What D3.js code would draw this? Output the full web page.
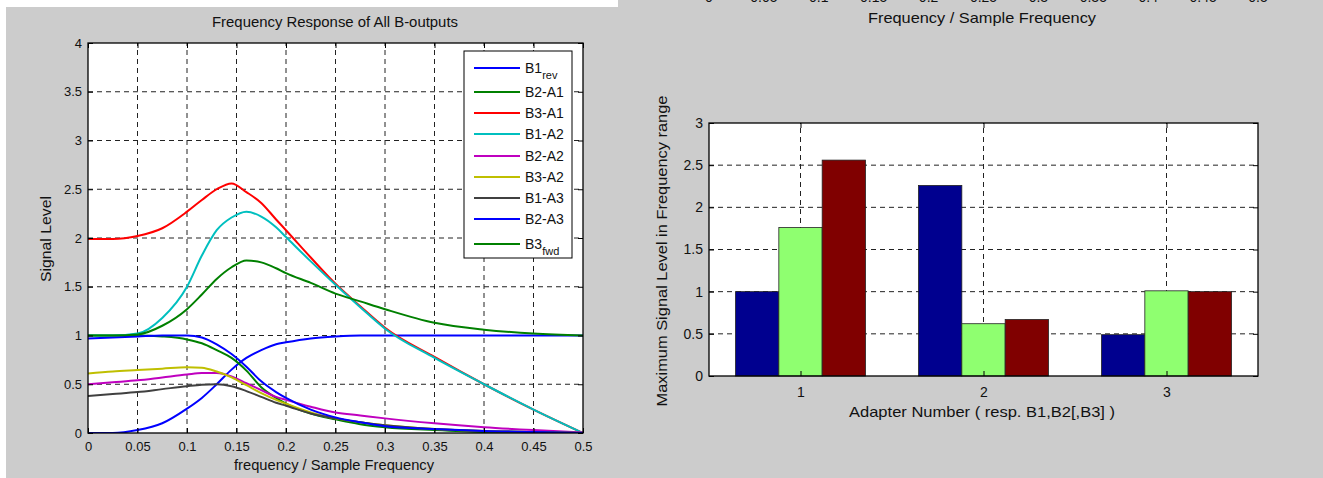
<!DOCTYPE html>
<html>
<head>
<meta charset="utf-8">
<script src="https://cdn.jsdelivr.net/npm/d3@7"></script>
<style>
  body { margin: 0; background: #cccccc; }
  svg { display: block; font-family: "Liberation Sans", Arial, sans-serif; }
</style>
</head>
<body>
<div id="chart"></div>
<script>
// ---- data: left panel (frequency response) ----
const freq   = [0, 0.025, 0.05, 0.075, 0.1, 0.115, 0.13, 0.145, 0.16, 0.175, 0.19, 0.2, 0.225, 0.25, 0.275, 0.3, 0.35, 0.4, 0.45, 0.5];
const b1rev  = [0, 0.0, 0.03, 0.1, 0.25, 0.36, 0.5, 0.65, 0.77, 0.85, 0.91, 0.93, 0.97, 0.99, 1.0, 1.0, 1.0, 1.0, 1.0, 1.0];
const b2a1   = [1.0, 1.0, 1.0, 0.99, 0.96, 0.92, 0.85, 0.77, 0.64, 0.47, 0.36, 0.30, 0.2, 0.14, 0.09, 0.06, 0.03, 0.01, 0.005, 0];
const b3a1   = [1.99, 1.99, 2.02, 2.1, 2.27, 2.39, 2.5, 2.56, 2.47, 2.36, 2.19, 2.08, 1.8, 1.53, 1.3, 1.08, 0.78, 0.5, 0.24, 0];
const b1a2   = [1.0, 1.0, 1.02, 1.18, 1.5, 1.82, 2.08, 2.21, 2.27, 2.22, 2.11, 2.01, 1.76, 1.52, 1.29, 1.07, 0.77, 0.5, 0.24, 0];
const b2a2   = [0.5, 0.52, 0.54, 0.57, 0.6, 0.615, 0.615, 0.58, 0.51, 0.44, 0.37, 0.34, 0.27, 0.21, 0.18, 0.15, 0.1, 0.06, 0.03, 0.005];
const b3a2   = [0.61, 0.63, 0.645, 0.66, 0.675, 0.67, 0.63, 0.57, 0.49, 0.41, 0.34, 0.3, 0.21, 0.15, 0.11, 0.08, 0.04, 0.02, 0.01, 0];
const b1a3   = [0.38, 0.4, 0.42, 0.45, 0.48, 0.495, 0.5, 0.48, 0.43, 0.37, 0.31, 0.28, 0.2, 0.15, 0.11, 0.08, 0.04, 0.02, 0.01, 0];
const b2a3   = [0.97, 0.98, 0.99, 1.0, 1.0, 0.98, 0.91, 0.81, 0.68, 0.53, 0.42, 0.36, 0.24, 0.16, 0.11, 0.07, 0.04, 0.02, 0.01, 0];
const b3fwd  = [1.0, 1.0, 1.01, 1.1, 1.27, 1.42, 1.58, 1.7, 1.77, 1.75, 1.69, 1.64, 1.54, 1.43, 1.35, 1.27, 1.13, 1.06, 1.02, 1.0];

const seriesNames  = [["B1", "rev"], ["B2-A1"], ["B3-A1"], ["B1-A2"], ["B2-A2"], ["B3-A2"], ["B1-A3"], ["B2-A3"], ["B3", "fwd"]];
const seriesValues = [b1rev, b2a1, b3a1, b1a2, b2a2, b3a2, b1a3, b2a3, b3fwd];
const seriesColors = ["#0000ff", "#008000", "#ff0000", "#00bfbf", "#bf00bf", "#bfbf00", "#404040", "#0000ff", "#008000"];

const freqTicks  = [0, 0.05, 0.1, 0.15, 0.2, 0.25, 0.3, 0.35, 0.4, 0.45, 0.5];
const levelTicks = [0, 0.5, 1, 1.5, 2, 2.5, 3, 3.5, 4];

// ---- data: right panel (max level per adapter) ----
const adapters   = [1, 2, 3];
const barSeries1 = [1.0, 2.26, 0.49];
const barSeries2 = [1.76, 0.62, 1.01];
const barSeries3 = [2.56, 0.67, 1.0];
const barColors  = ["#00008f", "#8fff70", "#800000"];
const maxTicks   = [0, 0.5, 1, 1.5, 2, 2.5, 3];

const W = 1323, H = 478;
const fmt = d => String(+d.toFixed(2));

const svg = d3.select("#chart").append("svg")
  .attr("width", W).attr("height", H)
  .attr("viewBox", [0, 0, W, H]);

// white page corners around the two figure screenshots
svg.append("rect").attr("x", 0).attr("y", 0).attr("width", 618).attr("height", 7).attr("fill", "#fff");
svg.append("rect").attr("x", 0).attr("y", 0).attr("width", 6).attr("height", H).attr("fill", "#fff");

// text helper, widths forced to match the wider MATLAB rendering
function label(g, x, y, txt, fs, len, rot) {
  const t = g.append("text")
    .attr("transform", `translate(${x},${y})` + (rot ? " rotate(-90)" : ""))
    .attr("text-anchor", "middle").attr("font-size", fs).attr("fill", "#111").text(txt);
  if (len) t.attr("textLength", len).attr("lengthAdjust", "spacingAndGlyphs");
  return t;
}

// helper: MATLAB style axes box with inward ticks on all sides + dashed grid
function matlabAxes(g, x, y, xt, yt, xfmt, yfmt, fs, padB) {
  const [x0, x1] = x.range(), [y0, y1] = y.range();
  g.append("rect").attr("x", x0).attr("y", y1).attr("width", x1 - x0).attr("height", y0 - y1).attr("fill", "#fff");

  const grid = g.append("g").attr("stroke", "#222").attr("stroke-dasharray", "5,4").attr("stroke-width", 1);
  grid.selectAll(".gx").data(xt.filter(t => x(t) > x0 + 1 && x(t) < x1 - 1)).join("line")
    .attr("x1", d => x(d)).attr("x2", d => x(d)).attr("y1", y0).attr("y2", y1);
  grid.selectAll(".gy").data(yt.filter(t => y(t) < y0 - 1 && y(t) > y1 + 1)).join("line")
    .attr("x1", x0).attr("x2", x1).attr("y1", d => y(d)).attr("y2", d => y(d));
  return function frame() {
    const axB = d3.axisBottom(x).tickValues(xt).tickSizeInner(-5).tickSizeOuter(0).tickPadding(padB).tickFormat(xfmt);
    const axT = d3.axisTop(x).tickValues(xt).tickSizeInner(-5).tickSizeOuter(0).tickFormat("");
    const axL = d3.axisLeft(y).tickValues(yt).tickSizeInner(-5).tickSizeOuter(0).tickPadding(6).tickFormat(yfmt);
    const axR = d3.axisRight(y).tickValues(yt).tickSizeInner(-5).tickSizeOuter(0).tickFormat("");
    const style = a => a.call(s => s.select(".domain").remove())
      .call(s => s.selectAll("text").attr("font-size", fs).attr("fill", "#111").attr("font-family", null))
      .call(s => s.selectAll("line").attr("stroke", "#000"));
    g.append("g").attr("transform", `translate(0,${y0})`).call(axB).call(style);
    g.append("g").attr("transform", `translate(0,${y1})`).call(axT).call(style);
    g.append("g").attr("transform", `translate(${x0},0)`).call(axL).call(style);
    g.append("g").attr("transform", `translate(${x1},0)`).call(axR).call(style);
    g.append("rect").attr("x", x0).attr("y", y1).attr("width", x1 - x0).attr("height", y0 - y1)
      .attr("fill", "none").attr("stroke", "#000").attr("stroke-width", 1.3);
  };
}

// ================= left panel =================
const xL = d3.scaleLinear([0, 0.5], [88, 583]);
const yL = d3.scaleLinear([0, 4], [433, 43]);
const left = svg.append("g");
const frameL = matlabAxes(left, xL, yL, freqTicks, levelTicks, fmt, fmt, 13, 9);

left.append("clipPath").attr("id", "clipL").append("rect")
  .attr("x", 88).attr("y", 43).attr("width", 495).attr("height", 390);

const line = d3.line().x((d, i) => xL(freq[i])).y(d => yL(d)).curve(d3.curveMonotoneX);
left.append("g").attr("clip-path", "url(#clipL)")
  .selectAll("path").data(seriesValues).join("path")
  .attr("d", d => line(d))
  .attr("fill", "none")
  .attr("stroke", (d, i) => seriesColors[i])
  .attr("stroke-width", 2);

frameL();

label(left, 335, 27, "Frequency Response of All B-outputs", 14, 246);
label(left, 334, 470, "frequency / Sample Frequency", 14, 200);
label(left, 51, 239, "Signal Level", 14, 86, true);

// legend
const lg = left.append("g");
lg.append("rect").attr("x", 464).attr("y", 51).attr("width", 108).attr("height", 207)
  .attr("fill", "#fff").attr("stroke", "#000").attr("stroke-width", 1);
const rowY = [68, 92, 113, 134, 156, 177, 198, 219, 244];
seriesNames.forEach((nm, i) => {
  const yy = rowY[i];
  lg.append("line").attr("x1", 474).attr("x2", 520).attr("y1", yy).attr("y2", yy)
    .attr("stroke", seriesColors[i]).attr("stroke-width", 2);
  const t = lg.append("text").attr("x", 525).attr("y", yy + 5).attr("font-size", 14).attr("fill", "#111");
  t.append("tspan").text(nm[0]);
  if (nm[1]) t.append("tspan").attr("font-size", 11).attr("dy", 6).text(nm[1]);
});

// ================= right panel =================
// bottom of the previous axes, cut off at the top of the screenshot
const xTop = d3.scaleLinear([0, 0.5], [709, 1258]);
svg.append("g").selectAll("text").data(freqTicks).join("text")
  .attr("x", d => xTop(d)).attr("y", 2).attr("text-anchor", "middle")
  .attr("font-size", 14).attr("fill", "#111").text(fmt);
label(svg, 982, 23, "Frequency / Sample Frequency", 15, 228);

const xR = d3.scaleLinear([0.5, 3.5], [709, 1258]);
const yR = d3.scaleLinear([0, 3], [376, 123]);
const right = svg.append("g");
const frameR = matlabAxes(right, xR, yR, adapters, maxTicks, fmt, fmt, 14, 11);

const inner = d3.scaleBand().domain([0, 1, 2]).range([-65, 65]);
const barRows = [barSeries1, barSeries2, barSeries3];
barRows.forEach((vals, s) => {
  right.append("g").selectAll("rect").data(vals).join("rect")
    .attr("x", (d, i) => xR(adapters[i]) + inner(s))
    .attr("y", d => yR(d))
    .attr("width", inner.bandwidth())
    .attr("height", d => yR(0) - yR(d))
    .attr("fill", barColors[s])
    .attr("stroke", "#222").attr("stroke-width", 0.8);
});

frameR();

label(right, 982, 417, "Adapter Number ( resp. B1,B2[,B3] )", 15, 266);
label(right, 667, 251, "Maximum Signal Level in Frequency range", 15, 311, true);
</script>
</body>
</html>
